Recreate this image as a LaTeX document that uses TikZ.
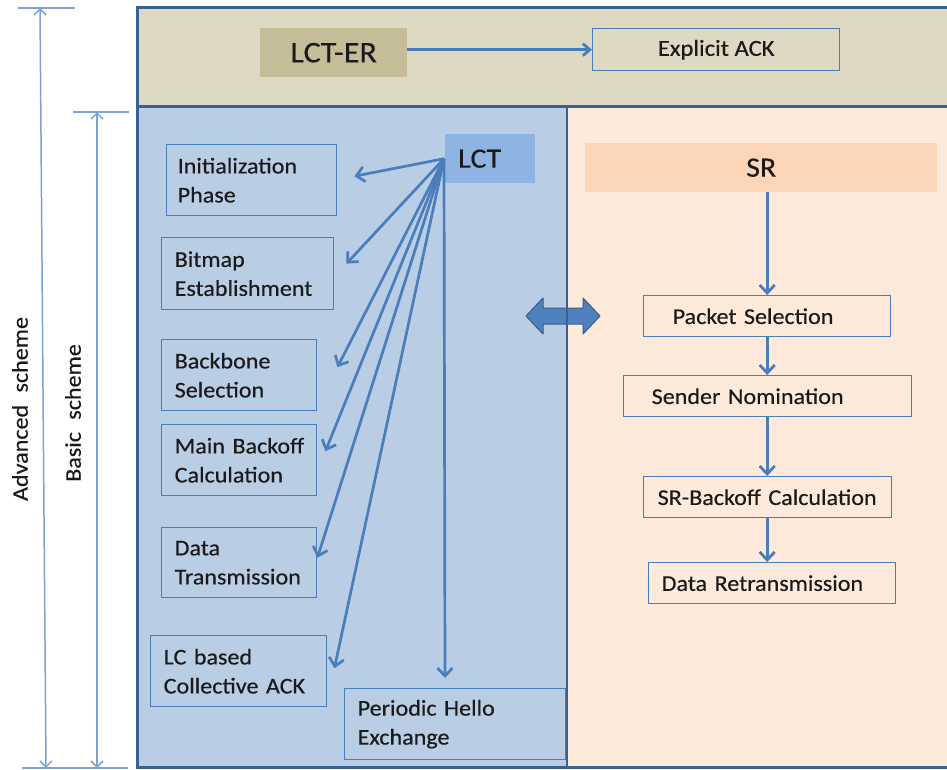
\documentclass[tikz,border=0pt]{standalone}
\usepackage{fontspec}
\setmainfont{Carlito}[FakeStretch=1.07,FakeBold=0.35]
\usetikzlibrary{arrows.meta,calc}

\definecolor{bandtan}{HTML}{DDD9C3}
\definecolor{ertan}{HTML}{C4BD97}
\definecolor{lctarea}{HTML}{B9CDE5}
\definecolor{lcthead}{HTML}{8EB4E3}
\definecolor{srarea}{HTML}{FDEADA}
\definecolor{srhead}{HTML}{FBD5B5}
\definecolor{frameblue}{HTML}{3A6190}
\definecolor{boxedge}{HTML}{4A7EBB}
\definecolor{flowblue}{HTML}{4A7EBB}
\definecolor{dimblue}{HTML}{7BA3D6}
\definecolor{bigarrow}{HTML}{4F81BD}
\definecolor{bigarrowedge}{HTML}{385D8A}
\definecolor{ink}{HTML}{1A1A1A}

\newcommand\nohyphens{\hyphenpenalty=10000\relax}

\begin{document}
\begin{tikzpicture}[x=1pt,y=-1pt,
  txt/.style={font=\fontsize{22.5}{29}\selectfont, text=ink},
  stepbox/.style={txt, draw=boxedge, line width=1.4pt, align=left,
    inner ysep=0pt, anchor=north west,
    execute at begin node=\nohyphens},
  headbox/.style={font=\fontsize{28}{32}\selectfont, text=ink, inner sep=0pt,
    anchor=north west},
  flow/.style={draw=flowblue, line width=2.8pt,
    -{Straight Barb[length=8pt,width=15pt]}},
  frame/.style={draw=frameblue, line width=3pt},
  dimline/.style={draw=dimblue, line width=1.5pt},
  dimarrow/.style={dimline,
    {Straight Barb[length=6pt,width=12pt]}-{Straight Barb[length=6pt,width=12pt]}},
  sidelabel/.style={txt, rotate=90}]

\useasboundingbox (0,0) rectangle (947,769);

% background areas
\fill[bandtan] (137,7) rectangle (947,106);
\fill[lctarea] (137,106) rectangle (567,767);
\fill[srarea] (567,106) rectangle (947,767);

% outer frame and band separator
\draw[frame] (950,7) -- (137,7) -- (137,767) -- (950,767);
\draw[frame] (137,106) -- (950,106);

% extended-reliability band
\node[headbox, fill=ertan, minimum width=147pt, minimum height=49pt,
      font=\fontsize{30}{34}\selectfont] (lcter) at (260,28) {LCT-ER};
\node[stepbox, align=center, minimum width=247pt, minimum height=42pt,
      font=\fontsize{23}{28}\selectfont] (eack) at (592,28) {Explicit ACK};
\draw[flow, -{Straight Barb[length=7pt,width=12pt]}] (lcter.east |- eack.west) -- (eack.west);

% LCT phases
\node[headbox, fill=lcthead, minimum height=49pt, text width=64pt,
      inner xsep=13pt, align=left] (lct) at (445,134) {LCT};

\node[stepbox, text width=148pt, inner xsep=11pt, minimum height=71pt] (init) at (166,144) {Initialization\\Phase};
\node[stepbox, text width=146pt, inner xsep=13pt, minimum height=72pt] (bitmap) at (161,237) {Bitmap\\Establishment};
\node[stepbox, text width=129pt, inner xsep=13pt, minimum height=71pt] (backbone) at (161,339) {Backbone\\Selection};
\node[stepbox, text width=129pt, inner xsep=13pt, minimum height=71pt] (mainbo) at (161,424) {\mbox{Main Backoff}\\Calculation};
\node[stepbox, text width=129pt, inner xsep=13pt, minimum height=70pt] (datatx) at (161,527) {Data\\Transmission};
\node[stepbox, text width=150pt, inner xsep=13pt, minimum height=71pt] (lcack) at (150,635) {LC based\\\mbox{Collective ACK}};
\node[stepbox, text width=195pt, inner xsep=13pt, minimum height=71pt] (hello) at (344,688) {Periodic Hello\\Exchange};

% arrow ends beside the phase boxes
\coordinate (tInit) at ($(init.east)+(17,-4)$);
\coordinate (tBitmap) at ($(bitmap.east)+(12,-10)$);
\coordinate (tBackbone) at ($(backbone.east)+(20,-8)$);
\coordinate (tMain) at ($(mainbo.east)+(8,-9)$);
\coordinate (tData) at ($(datatx.east)+(0,-5)$);
\coordinate (tAck) at ($(lcack.east)+(7,-3)$);
\coordinate (tHello) at ($(lct.west |- hello.north)+(0,-10)$);

\foreach \t in {tInit,tBitmap,tBackbone,tMain,tData,tAck,tHello}
  \draw[flow, line width=2.7pt] ($(lct.west)+(-1,0)$) -- (\t);

% SR chain
\node[headbox, fill=srhead, minimum width=352pt, minimum height=49pt] (sr) at (585,143) {SR};
\node[stepbox, text width=189pt, inner xsep=29pt, minimum height=41pt] (pkt) at (643,295) {Packet Selection};
\node[stepbox, text width=232pt, inner xsep=28pt, minimum height=41pt] (sender) at (623,375) {Sender Nomination};
\node[stepbox, text width=220pt, inner xsep=14pt, minimum height=41pt] (srbo) at (643,476) {SR-Backoff Calculation};
\node[stepbox, text width=221pt, inner xsep=13pt, minimum height=41pt] (dretx) at (648,562) {Data Retransmission};

\draw[flow] (pkt.north |- sr.south) -- (pkt.north);
\draw[flow] (pkt.south) -- (pkt.south |- sender.north);
\draw[flow] (pkt.south |- sender.south) -- (pkt.south |- srbo.north);
\draw[flow] (pkt.south |- srbo.south) -- (pkt.south |- dretx.north);

% two-way exchange between LCT and SR
\draw[fill=bigarrow, draw=bigarrowedge, line width=1pt, line join=round]
  (526,316) -- (543,298) -- (543,308) -- (583,308) -- (583,298) -- (600,316)
  -- (583,334) -- (583,324) -- (543,324) -- (543,334) -- cycle;

% divider between LCT and SR
\draw[frame, line width=2.4pt] (567,106) -- (567,767);

% scheme extents on the left
\draw[dimline] (18,8) -- (75,8);
\draw[dimline] (73,112) -- (129,112);
\draw[dimline] (22,768) -- (128,768);
\coordinate (advTop) at (40,8);
\coordinate (advBot) at (46,768);
\coordinate (basTop) at (97,112);
\coordinate (basBot) at (97,768);
\draw[dimarrow] (advBot) -- (advTop);
\draw[dimarrow] (basBot) -- (basTop);
\node[sidelabel] (advlabel) at (20,409) {Advanced\hspace{0.55em}scheme};
\node[sidelabel] (baslabel) at (73,413) {Basic\hspace{0.55em}scheme};

\end{tikzpicture}
\end{document}
